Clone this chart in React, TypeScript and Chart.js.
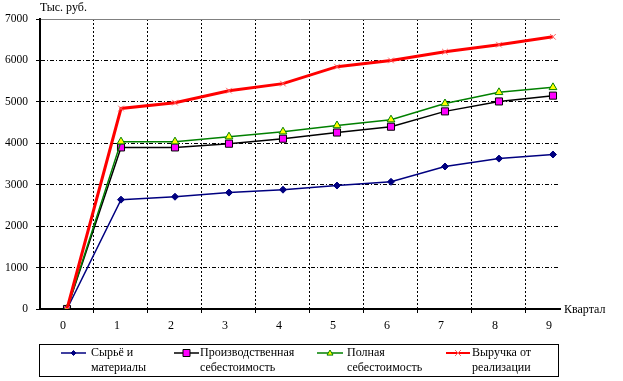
import React, { useEffect, useRef } from 'react';
import { Chart, registerables } from 'chart.js';

Chart.register(...registerables);

// ---- data ----
const quarters = [0, 1, 2, 3, 4, 5, 6, 7, 8, 9];
const rawMaterials = [0, 2640, 2710, 2810, 2880, 2980, 3070, 3440, 3630, 3730];
const productionCost = [0, 3900, 3900, 3990, 4110, 4260, 4400, 4770, 5010, 5150];
const fullCost = [0, 4040, 4040, 4160, 4280, 4430, 4570, 4960, 5230, 5350];
const revenue = [0, 4840, 4980, 5270, 5440, 5850, 6000, 6210, 6380, 6570];
const seriesLabels = [
  ['Сырьё и', 'материалы'],
  ['Производственная', 'себестоимость'],
  ['Полная', 'себестоимость'],
  ['Выручка от', 'реализации'],
];
const yMin = 0;
const yMax = 7000;
const yStep = 1000;
const yAxisTitle = 'Тыс. руб.';
const xAxisTitle = 'Квартал';

const FONT = '"Liberation Serif", "Times New Roman", serif';

const toPoints = (vals: number[]) => quarters.map((q, i) => ({ x: q, y: vals[i] }));

const legendPos = [
  { x0: 61, x1: 86, tx: 91 },
  { x0: 174, x1: 199, tx: 200 },
  { x0: 317, x1: 343, tx: 347 },
  { x0: 446, x1: 470, tx: 472 },
];

function drawMarker(ctx: CanvasRenderingContext2D, style: string, x: number, y: number, r: number, fill: string, stroke: string) {
  ctx.save();
  ctx.fillStyle = fill;
  ctx.strokeStyle = stroke;
  ctx.lineWidth = 1;
  ctx.beginPath();
  if (style === 'rectRot') {
    ctx.moveTo(x, y - r); ctx.lineTo(x + r, y); ctx.lineTo(x, y + r); ctx.lineTo(x - r, y); ctx.closePath();
    ctx.fill(); ctx.stroke();
  } else if (style === 'rect') {
    ctx.rect(x - r, y - r, 2 * r, 2 * r); ctx.fill(); ctx.stroke();
  } else if (style === 'triangle') {
    ctx.moveTo(x, y - r); ctx.lineTo(x + r, y + r * 0.7); ctx.lineTo(x - r, y + r * 0.7); ctx.closePath();
    ctx.fill(); ctx.stroke();
  } else {
    ctx.moveTo(x - r, y - r); ctx.lineTo(x + r, y + r); ctx.moveTo(x + r, y - r); ctx.lineTo(x - r, y + r);
    ctx.stroke();
  }
  ctx.restore();
}

const decorPlugin = {
  id: 'decor',
  afterDraw(chart: any) {
    const ctx: CanvasRenderingContext2D = chart.ctx;
    ctx.save();
    ctx.fillStyle = '#000';
    ctx.font = `12px ${FONT}`;
    ctx.textBaseline = 'middle';
    ctx.textAlign = 'left';
    ctx.fillText(yAxisTitle, 40, 8);
    ctx.fillText(xAxisTitle, 564, 310);

    // legend box
    ctx.strokeStyle = '#000';
    ctx.lineWidth = 1;
    ctx.strokeRect(39.5, 344.5, 519, 32);

    const sizes = [2.5, 3.5, 3, 3];
    chart.data.datasets.forEach((ds: any, i: number) => {
      const p = legendPos[i];
      const y = 353;
      ctx.save();
      ctx.strokeStyle = ds.borderColor;
      ctx.lineWidth = Math.min(ds.borderWidth, 2);
      ctx.beginPath();
      ctx.moveTo(p.x0, y);
      ctx.lineTo(p.x1, y);
      ctx.stroke();
      ctx.restore();
      drawMarker(ctx, ds.pointStyle, (p.x0 + p.x1) / 2, y, sizes[i], ds.pointBackgroundColor, ds.pointBorderColor);
      ctx.fillStyle = '#000';
      ctx.font = `12px ${FONT}`;
      ctx.fillText(seriesLabels[i][0], p.tx, 353);
      ctx.fillText(seriesLabels[i][1], p.tx, 368);
    });
    ctx.restore();
  },
};

export default function App() {
  const canvasRef = useRef<HTMLCanvasElement | null>(null);

  useEffect(() => {
    document.body.style.margin = '0';
    const canvas = canvasRef.current;
    if (!canvas) return;

    const xTicks: number[] = [];
    for (let v = 0; v <= 9; v += 0.5) xTicks.push(v);
    const yTicks: number[] = [];
    for (let v = yMin; v <= yMax; v += yStep) yTicks.push(v);

    const isHalf = (c: any) => c.tick && !Number.isInteger(c.tick.value);

    const chart = new Chart(canvas, {
      type: 'line',
      data: {
        datasets: [
          {
            label: seriesLabels[0].join(' '),
            data: toPoints(rawMaterials),
            borderColor: '#000080',
            borderWidth: 1.5,
            pointStyle: 'rectRot',
            pointRadius: 3.5,
            pointBackgroundColor: '#000080',
            pointBorderColor: '#000080',
            pointBorderWidth: 1,
            order: 3,
          },
          {
            label: seriesLabels[1].join(' '),
            data: toPoints(productionCost),
            borderColor: '#000000',
            borderWidth: 1.5,
            pointStyle: 'rect',
            pointRadius: 5,
            pointBackgroundColor: '#FF00FF',
            pointBorderColor: '#000000',
            pointBorderWidth: 1,
            order: 2,
          },
          {
            label: seriesLabels[2].join(' '),
            data: toPoints(fullCost),
            borderColor: '#008000',
            borderWidth: 1.5,
            pointStyle: 'triangle',
            pointRadius: 4.5,
            pointBackgroundColor: '#FFFF00',
            pointBorderColor: '#008000',
            pointBorderWidth: 1,
            order: 1,
          },
          {
            label: seriesLabels[3].join(' '),
            data: toPoints(revenue),
            borderColor: '#FF0000',
            borderWidth: 3,
            pointStyle: 'crossRot',
            pointRadius: 4,
            pointBackgroundColor: '#FF0000',
            pointBorderColor: '#FF6060',
            pointBorderWidth: 1,
            order: 0,
          },
        ] as any,
      },
      options: {
        responsive: false,
        animation: false,
        events: [],
        layout: { padding: { top: 19, right: 63, left: 0, bottom: 0 } },
        plugins: {
          legend: { display: false },
          tooltip: { enabled: false },
          title: { display: false },
        },
        scales: {
          x: {
            type: 'linear',
            min: -0.5,
            max: 9.13,
            afterBuildTicks: (scale: any) => {
              scale.ticks = xTicks.map((v) => ({ value: v }));
            },
            afterFit: (scale: any) => {
              scale.height = 72;
            },
            ticks: {
              autoSkip: false,
              maxRotation: 0,
              minRotation: 0,
              padding: 6,
              labelOffset: -4,
              color: '#000',
              font: { family: FONT, size: 12 },
              callback: (v: any) => (Number.isInteger(v) ? String(v) : ''),
            },
            grid: {
              drawOnChartArea: true,
              color: (c: any) => (isHalf(c) ? '#000' : 'rgba(0,0,0,0)'),
              tickColor: (c: any) => (isHalf(c) ? '#000' : 'rgba(0,0,0,0)'),
              lineWidth: 1,
              tickLength: 4,
            },
            border: {
              display: true,
              color: '#000',
              width: 2,
              dash: (c: any) => (c.tick ? [2, 2] : []),
            },
          } as any,
          y: {
            type: 'linear',
            min: yMin,
            max: yMax,
            afterBuildTicks: (scale: any) => {
              scale.ticks = yTicks.map((v) => ({ value: v }));
            },
            afterFit: (scale: any) => {
              scale.width = 40;
            },
            ticks: {
              padding: 8,
              color: '#000',
              font: { family: FONT, size: 11.5 },
              callback: (v: any) => String(v),
            },
            grid: {
              drawOnChartArea: true,
              color: (c: any) => {
                if (!c.tick) return '#000';
                if (c.tick.value === yMin) return 'rgba(0,0,0,0)';
                if (c.tick.value === yMax) return '#808080';
                return '#000';
              },
              tickColor: '#000',
              lineWidth: 1,
              tickLength: 4,
            },
            border: {
              display: true,
              color: '#000',
              width: 2,
              dash: (c: any) =>
                c.tick && c.tick.value > yMin && c.tick.value < yMax ? [4, 2, 1, 2] : [],
            },
          } as any,
        },
      },
      plugins: [decorPlugin],
    });

    return () => chart.destroy();
  }, []);

  return (
    <div style={{ width: 623, height: 381, background: '#fff' }}>
      <canvas ref={canvasRef} width={623} height={381} style={{ display: 'block' }} />
    </div>
  );
}
